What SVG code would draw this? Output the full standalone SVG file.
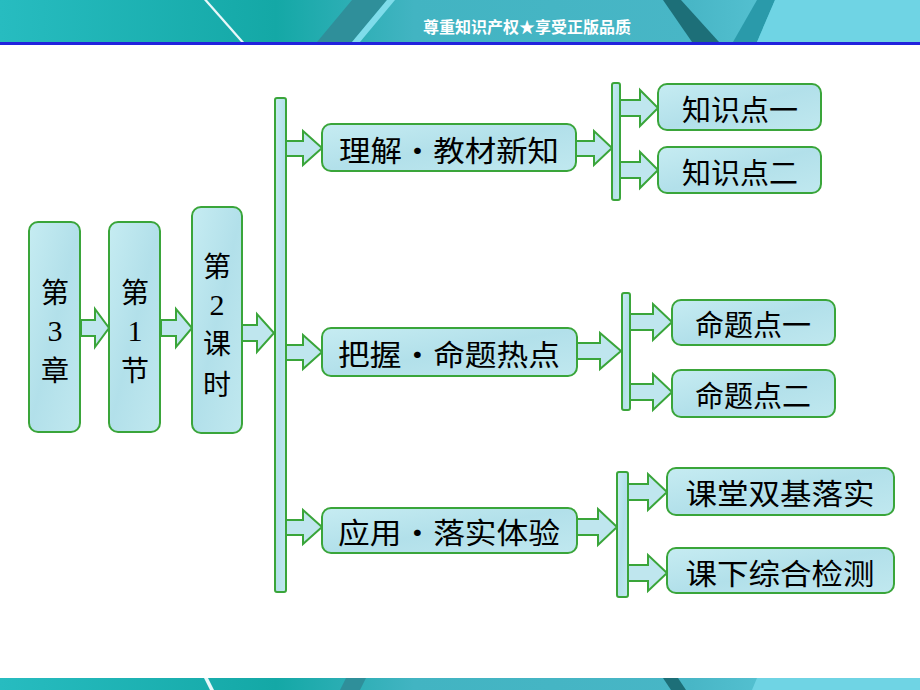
<svg xmlns="http://www.w3.org/2000/svg" width="920" height="690" viewBox="0 0 920 690">
<defs>
<linearGradient id="band" x1="0" y1="0" x2="1" y2="0">
<stop offset="0" stop-color="#27bcc0"/>
<stop offset="0.3" stop-color="#14a8a6"/>
<stop offset="0.45" stop-color="#42b4c2"/>
<stop offset="0.75" stop-color="#48b6c6"/>
<stop offset="1" stop-color="#6ed6e6"/>
</linearGradient>
<linearGradient id="nodefill" x1="0" y1="0" x2="1" y2="1">
<stop offset="0" stop-color="#c6ecf2"/>
<stop offset="0.5" stop-color="#b2e0ea"/>
<stop offset="1" stop-color="#c0e8ef"/>
</linearGradient>
</defs>
<style>
.box{fill:url(#nodefill);stroke:#3aa53a;stroke-width:2}
.bar{fill:url(#nodefill);stroke:#3aa53a;stroke-width:2}
.arr{fill:#bfe6ee;stroke:#3aa53a;stroke-width:2;stroke-linejoin:miter}
.t{font-family:"Noto Sans CJK SC","Noto Sans CJK JP",sans-serif;font-size:29px;fill:#000;text-anchor:middle;dominant-baseline:central}
.v{font-size:28px}
.d{font-family:"Liberation Serif",serif;font-size:30px}
.hd{font-family:"Noto Sans CJK SC",sans-serif;font-size:16px;font-weight:bold;fill:#fff;text-anchor:middle}
</style>
<rect width="920" height="690" fill="#fff"/>
<g id="header">
<rect x="0" y="0" width="920" height="42" fill="url(#band)"/>
<polygon points="204,0 241,42 244,42 207,0" fill="#e8f8fa"/>
<polygon points="352,0 387,0 352,42 317,42" fill="#2f8f9a"/>
<polygon points="387,0 395,0 360,42 352,42" fill="#7fdcea"/>
<polygon points="663,0 681,0 719,42 692,42" fill="#1d6f78"/>
<polygon points="757,0 775,0 757,42 733,42" fill="#2a9aaa"/>
<polygon points="775,0 920,0 920,42 757,42" fill="#6fd4e4"/>
<rect x="0" y="42" width="920" height="3" fill="#2222dd"/>
<text class="hd" x="527" y="33">尊重知识产权★享受正版品质</text>
</g>
<g id="footer">
<rect x="0" y="678" width="920" height="12" fill="url(#band)"/>
<polygon points="204,678 208,678 214,690 210,690" fill="#e8f8fa"/>
<polygon points="346,678 366,678 360,690 340,690" fill="#2f8f9a"/>
<polygon points="663,678 678,678 686,690 671,690" fill="#1d6f78"/>
<polygon points="757,678 920,678 920,690 752,690" fill="#6fd4e4"/>
</g>
<g id="connectors">
<path class="arr" d="M81,320 L95,320 L95,309 L109,328 L95,347 L95,336 L81,336 Z"/>
<path class="arr" d="M161,320 L176,320 L176,309 L192,328 L176,347 L176,336 L161,336 Z"/>
<path class="arr" d="M242,325 L257,325 L257,314 L274,333 L257,352 L257,341 L242,341 Z"/>
<path class="arr" d="M286,141 L303,141 L303,131 L322,148 L303,165 L303,156 L286,156 Z"/>
<path class="arr" d="M286,345 L303,345 L303,335 L322,352 L303,369 L303,360 L286,360 Z"/>
<path class="arr" d="M286,520 L303,520 L303,510 L322,527 L303,544 L303,535 L286,535 Z"/>
<path class="arr" d="M576,141 L594,141 L594,131 L612,148 L594,165 L594,156 L576,156 Z"/>
<path class="arr" d="M620,100 L640,100 L640,90 L658,108 L640,126 L640,116 L620,116 Z"/>
<path class="arr" d="M620,162 L640,162 L640,152 L658,170 L640,188 L640,178 L620,178 Z"/>
<path class="arr" d="M577,343 L600,343 L600,333 L621,351 L600,369 L600,359 L577,359 Z"/>
<path class="arr" d="M630,314 L653,314 L653,304 L672,322 L653,340 L653,330 L630,330 Z"/>
<path class="arr" d="M630,384 L653,384 L653,374 L672,392 L653,410 L653,400 L630,400 Z"/>
<path class="arr" d="M577,519 L598,519 L598,509 L617,527 L598,545 L598,535 L577,535 Z"/>
<path class="arr" d="M628,484 L648,484 L648,474 L667,492 L648,510 L648,500 L628,500 Z"/>
<path class="arr" d="M628,565 L648,565 L648,555 L667,573 L648,591 L648,581 L628,581 Z"/>
</g>
<g id="bar1"><rect class="bar" x="275" y="98" width="11" height="494" rx="2"/></g>
<g id="bar2"><rect class="bar" x="612" y="83" width="8" height="117" rx="2"/></g>
<g id="bar3"><rect class="bar" x="622" y="293" width="8" height="117" rx="2"/></g>
<g id="bar4"><rect class="bar" x="617" y="472" width="11" height="125" rx="2"/></g>
<g id="n-ch3">
<rect class="box" x="29" y="222" width="51" height="210" rx="9"/>
<text class="t v" x="55" y="291">第<tspan class="d" x="55" y="330">3</tspan><tspan x="55" y="369">章</tspan></text>
</g>
<g id="n-sec1">
<rect class="box" x="109" y="222" width="51" height="210" rx="9"/>
<text class="t v" x="135" y="291">第<tspan class="d" x="135" y="330">1</tspan><tspan x="135" y="369">节</tspan></text>
</g>
<g id="n-lesson2">
<rect class="box" x="192" y="207" width="50" height="226" rx="9"/>
<text class="t v" x="217" y="265">第<tspan class="d" x="217" y="304">2</tspan><tspan x="217" y="342">课</tspan><tspan x="217" y="383">时</tspan></text>
</g>
<g id="n-lijie">
<rect class="box" x="322" y="124" width="254" height="47" rx="9"/>
<text class="t" x="449" y="149" textLength="220" lengthAdjust="spacingAndGlyphs">理解·教材新知</text>
</g>
<g id="n-bawo">
<rect class="box" x="322" y="328" width="255" height="48" rx="9"/>
<text class="t" x="449" y="353" textLength="222" lengthAdjust="spacingAndGlyphs">把握·命题热点</text>
</g>
<g id="n-yingyong">
<rect class="box" x="322" y="508" width="255" height="45" rx="9"/>
<text class="t" x="449" y="531" textLength="222" lengthAdjust="spacingAndGlyphs">应用·落实体验</text>
</g>
<g id="n-zs1">
<rect class="box" x="658" y="84" width="163" height="46" rx="9"/>
<text class="t" x="740" y="108">知识点一</text>
</g>
<g id="n-zs2">
<rect class="box" x="658" y="147" width="163" height="46" rx="9"/>
<text class="t" x="740" y="171">知识点二</text>
</g>
<g id="n-mt1">
<rect class="box" x="672" y="300" width="163" height="45" rx="9"/>
<text class="t" x="753" y="323">命题点一</text>
</g>
<g id="n-mt2">
<rect class="box" x="672" y="370" width="163" height="47" rx="9"/>
<text class="t" x="753" y="394">命题点二</text>
</g>
<g id="n-kt">
<rect class="box" x="667" y="468" width="227" height="47" rx="9"/>
<text class="t" x="780" y="492" textLength="189" lengthAdjust="spacingAndGlyphs">课堂双基落实</text>
</g>
<g id="n-kx">
<rect class="box" x="667" y="548" width="227" height="45" rx="9"/>
<text class="t" x="780" y="572" textLength="189" lengthAdjust="spacingAndGlyphs">课下综合检测</text>
</g>
</svg>
